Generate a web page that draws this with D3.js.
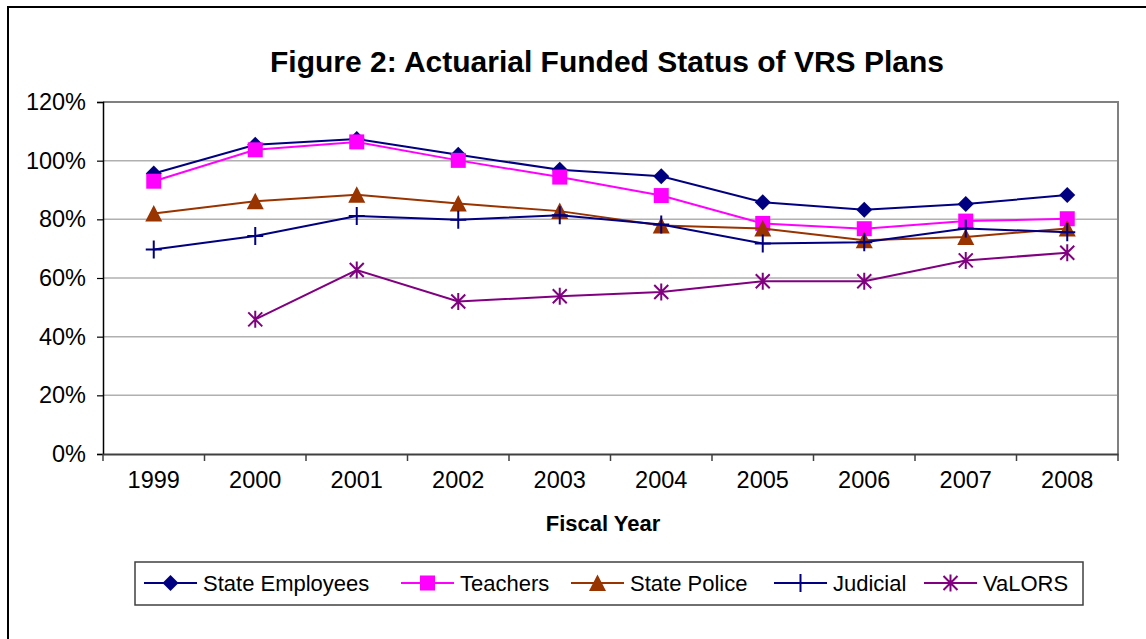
<!DOCTYPE html>
<html>
<head>
<meta charset="utf-8">
<script src="https://cdn.jsdelivr.net/npm/d3@7"></script>
<style>
  html, body { margin: 0; padding: 0; background: #fff; }
  svg { display: block; font-family: "Liberation Sans", Arial, sans-serif; }
</style>
</head>
<body>
<svg id="chart" width="1146" height="639"></svg>
<script>
const years = ["1999","2000","2001","2002","2003","2004","2005","2006","2007","2008"];
const yTicks = [0, 0.2, 0.4, 0.6, 0.8, 1.0, 1.2];
const seriesNames = ["State Employees","Teachers","State Police","Judicial","VaLORS"];
const stateEmployees = [0.956, 1.054, 1.074, 1.020, 0.969, 0.947, 0.858, 0.833, 0.852, 0.883];
const teachers       = [0.930, 1.037, 1.064, 1.001, 0.944, 0.881, 0.786, 0.768, 0.794, 0.802];
const statePolice    = [0.820, 0.862, 0.884, 0.854, 0.828, 0.779, 0.769, 0.729, 0.740, 0.769];
const judicial       = [0.697, 0.743, 0.811, 0.799, 0.814, 0.782, 0.718, 0.722, 0.769, 0.756];
const valors         = [null,  0.459, 0.627, 0.520, 0.538, 0.552, 0.589, 0.589, 0.660, 0.686];
const seriesColors = ["#000080", "#FF00FF", "#993300", "#000080", "#800080"];
const seriesMarkers = ["diamond", "square", "triangle", "plus", "star"];
const seriesValues = [stateEmployees, teachers, statePolice, judicial, valors];

const FONT = "'Liberation Sans', Arial, sans-serif";
const svg = d3.select("#chart");

// outer frame
svg.append("rect").attr("x", 8).attr("y", 7).attr("width", 1200).attr("height", 700)
  .attr("fill", "none").attr("stroke", "#000").attr("stroke-width", 2);

const plot = { left: 103, right: 1118, top: 102, bottom: 454 };
const x = d3.scaleBand().domain(years).range([plot.left, plot.right]);
const y = d3.scaleLinear().domain([0, 1.2]).range([plot.bottom, plot.top]);

// title
svg.append("text").attr("x", 607).attr("y", 72).attr("text-anchor", "middle")
  .attr("font-family", FONT)
  .attr("font-size", 30).attr("font-weight", "bold").text("Figure 2: Actuarial Funded Status of VRS Plans");

// gridlines
svg.append("g").selectAll("line").data(yTicks.filter(d => d > 0)).join("line")
  .attr("x1", plot.left).attr("x2", plot.right)
  .attr("y1", d => y(d)).attr("y2", d => y(d))
  .attr("stroke", "#b0b0b0").attr("stroke-width", 1.5);

// plot border (top & right)
svg.append("path")
  .attr("d", `M${plot.left},${plot.top}H${plot.right}V${plot.bottom}`)
  .attr("fill", "none").attr("stroke", "#808080").attr("stroke-width", 2);

// y axis
const yAxis = d3.axisLeft(y).tickValues(yTicks).tickFormat(d3.format(".0%")).tickSize(6).tickPadding(11);
const gy = svg.append("g").attr("transform", `translate(${plot.left},0)`).call(yAxis);
gy.select(".domain").attr("stroke", "#000").attr("stroke-width", 1.5);
gy.selectAll(".tick line").attr("stroke", "#000").attr("stroke-width", 1.2);
gy.selectAll(".tick text").attr("font-size", 23.5).attr("fill", "#000").attr("font-family", FONT);

// x axis
const xAxis = d3.axisBottom(x).tickSize(0).tickPadding(17);
const gx = svg.append("g").attr("transform", `translate(0,${plot.bottom})`).call(xAxis);
gx.select(".domain").attr("stroke", "#404040").attr("stroke-width", 2);
gx.selectAll(".tick text").attr("font-size", 23.5).attr("fill", "#000").attr("font-family", FONT);
// category boundary ticks
const bounds = years.map(yr => x(yr)).concat([x(years[years.length-1]) + x.bandwidth()]);
svg.append("g").selectAll("line").data(bounds).join("line")
  .attr("x1", d => d).attr("x2", d => d)
  .attr("y1", plot.bottom).attr("y2", plot.bottom + 7)
  .attr("stroke", "#404040").attr("stroke-width", 1.5);

// x axis title
svg.append("text").attr("x", 603).attr("y", 531).attr("text-anchor", "middle")
  .attr("font-family", FONT)
  .attr("font-size", 22).attr("font-weight", "bold").text("Fiscal Year");

// markers
function drawMarker(g, type, color, cx, cy) {
  if (type === "diamond") {
    g.append("path").attr("d", `M${cx},${cy-8}L${cx+8},${cy}L${cx},${cy+8}L${cx-8},${cy}Z`).attr("fill", color);
  } else if (type === "square") {
    g.append("rect").attr("x", cx-7.5).attr("y", cy-7.5).attr("width", 15).attr("height", 15).attr("fill", color);
  } else if (type === "triangle") {
    g.append("path").attr("d", `M${cx},${cy-8.5}L${cx+8.5},${cy+8}L${cx-8.5},${cy+8}Z`).attr("fill", color);
  } else if (type === "plus") {
    g.append("path").attr("d", `M${cx},${cy-9}V${cy+9}M${cx-8},${cy}H${cx+8}`)
      .attr("stroke", color).attr("stroke-width", 2).attr("fill", "none");
  } else if (type === "star") {
    g.append("path").attr("d", `M${cx-7},${cy-7}L${cx+7},${cy+7}M${cx+7},${cy-7}L${cx-7},${cy+7}M${cx},${cy-8.5}V${cy+8.5}`)
      .attr("stroke", color).attr("stroke-width", 2).attr("fill", "none");
  }
}

const line = d3.line()
  .defined(d => d.v !== null)
  .x(d => x(d.year) + x.bandwidth() / 2)
  .y(d => y(d.v));

seriesNames.forEach((name, i) => {
  const data = years.map((yr, j) => ({ year: yr, v: seriesValues[i][j] }));
  const g = svg.append("g");
  g.append("path").datum(data).attr("d", line)
    .attr("fill", "none").attr("stroke", seriesColors[i]).attr("stroke-width", 2);
  data.filter(d => d.v !== null).forEach(d => {
    drawMarker(g, seriesMarkers[i], seriesColors[i], x(d.year) + x.bandwidth() / 2, y(d.v));
  });
});

// legend
svg.append("rect").attr("x", 135).attr("y", 562).attr("width", 948).attr("height", 43)
  .attr("fill", "#fff").attr("stroke", "#404040").attr("stroke-width", 1.5);
const legendStarts = [144, 401, 571, 774, 924];
const lg = svg.append("g");
seriesNames.forEach((name, i) => {
  const lx = legendStarts[i], ly = 583;
  lg.append("line").attr("x1", lx).attr("x2", lx + 53).attr("y1", ly).attr("y2", ly)
    .attr("stroke", seriesColors[i]).attr("stroke-width", 2);
  drawMarker(lg, seriesMarkers[i], seriesColors[i], lx + 26.5, ly);
  lg.append("text").attr("x", lx + 59).attr("y", ly + 8).attr("font-family", FONT)
    .attr("font-size", 22).text(name);
});
</script>
</body>
</html>
